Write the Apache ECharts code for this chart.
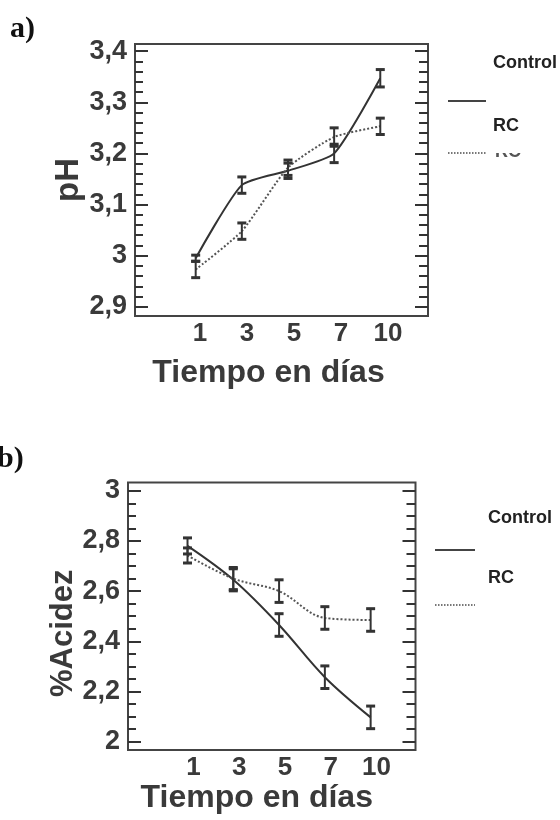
<!DOCTYPE html>
<html>
<head>
<meta charset="utf-8">
<script src="https://cdn.jsdelivr.net/npm/echarts@6/dist/echarts.min.js"></script>
<style>
html,body{margin:0;padding:0;background:#fff;}
#chart{width:560px;height:820px;}
</style>
</head>
<body>
<div id="chart"></div>
<script>
// ---- data ----
const dias = ['1', '3', '5', '7', '10'];
const seriesNames = ['Control', 'RC'];

const phControl    = [2.995, 3.138, 3.166, 3.200, 3.347];
const phControlErr = [0.006, 0.016, 0.015, 0.018, 0.017];
const phRC         = [2.973, 3.048, 3.172, 3.232, 3.253];
const phRCErr      = [0.016, 0.016, 0.015, 0.018, 0.016];

const acControl    = [2.780, 2.645, 2.465, 2.257, 2.097];
const acControlErr = [0.032, 0.044, 0.045, 0.045, 0.045];
const acRC         = [2.742, 2.650, 2.600, 2.493, 2.485];
const acRCErr      = [0.030, 0.044, 0.045, 0.045, 0.045];

const phTickValues = [2.9, 3.0, 3.1, 3.2, 3.3, 3.4];
const phTickLabels = ['2,9', '3', '3,1', '3,2', '3,3', '3,4'];
const acTickValues = [2.0, 2.2, 2.4, 2.6, 2.8, 3.0];
const acTickLabels = ['2', '2,2', '2,4', '2,6', '2,8', '3'];

const xTitle = 'Tiempo en días';
const yTitleA = 'pH';
const yTitleB = '%Acidez';

// ---- helpers ----
const FONT = 'Liberation Sans, Arial, sans-serif';
const TXT = '#3a3a3a';
const INK = '#333';

function minorsOf(majors, n) {
  const out = [];
  for (let i = 0; i < majors.length - 1; i++) {
    const step = (majors[i + 1] - majors[i]) / n;
    for (let k = 1; k < n; k++) out.push(+(majors[i] + k * step).toFixed(6));
  }
  return out;
}

function yAxesFor(gi, min, max, majors, labels, nMinor, name, nameGap, nameSize, namePad) {
  const minors = minorsOf(majors, nMinor);
  const base = {
    gridIndex: gi, type: 'value', min: min, max: max,
    axisLine: { show: false, onZero: false },
    splitLine: { show: false }
  };
  const tickStyle = { color: INK, width: 2 };
  return [
    Object.assign({}, base, {
      position: 'left',
      axisTick: { show: true, inside: true, length: 13, customValues: majors, lineStyle: tickStyle },
      axisLabel: {
        show: true, customValues: majors, margin: 8,
        fontFamily: FONT, fontWeight: 'bold', fontSize: 27, color: TXT,
        formatter: function (v) {
          const i = majors.findIndex(m => Math.abs(m - v) < 1e-6);
          return i >= 0 ? labels[i] : '';
        }
      },
      name: name, nameLocation: 'middle', nameGap: nameGap, nameMoveOverlap: false,
      nameTextStyle: { fontFamily: FONT, fontWeight: 'bold', fontSize: nameSize, color: TXT, padding: namePad }
    }),
    Object.assign({}, base, {
      position: 'left',
      axisTick: { show: true, inside: true, length: 8, customValues: minors, lineStyle: tickStyle },
      axisLabel: { show: false }
    }),
    Object.assign({}, base, {
      position: 'right',
      axisTick: { show: true, inside: true, length: 13, customValues: majors, lineStyle: tickStyle },
      axisLabel: { show: false }
    }),
    Object.assign({}, base, {
      position: 'right',
      axisTick: { show: true, inside: true, length: 9, customValues: minors, lineStyle: tickStyle },
      axisLabel: { show: false }
    })
  ];
}

function xAxesFor(gi, dMin, dMax, lMin, lMax, nameGap, namePad) {
  return [
    { gridIndex: gi, type: 'value', position: 'bottom', min: dMin, max: dMax, show: false,
      axisLine: { onZero: false } },
    { gridIndex: gi, type: 'value', position: 'bottom', min: lMin, max: lMax,
      axisLine: { show: false, onZero: false }, axisTick: { show: false }, splitLine: { show: false },
      axisLabel: {
        customValues: dias.map((d, i) => i), margin: 5,
        fontFamily: FONT, fontWeight: 'bold', fontSize: 26, color: TXT,
        formatter: v => dias[Math.round(v)]
      },
      name: xTitle, nameLocation: 'middle', nameGap: nameGap,
      nameTextStyle: { fontFamily: FONT, fontWeight: 'bold', fontSize: 32, color: TXT, padding: namePad }
    }
  ];
}

function errRender(params, api) {
  const x = api.value(0), lo = api.value(1), hi = api.value(2);
  const p1 = api.coord([x, lo]);
  const p2 = api.coord([x, hi]);
  const w = 4.5;
  const st = { stroke: INK, lineWidth: 2 };
  const cap = { stroke: INK, lineWidth: 3 };
  return {
    type: 'group',
    children: [
      { type: 'line', shape: { x1: p1[0], y1: p1[1], x2: p2[0], y2: p2[1] }, style: st },
      { type: 'line', shape: { x1: p1[0] - w, y1: p1[1], x2: p1[0] + w, y2: p1[1] }, style: cap },
      { type: 'line', shape: { x1: p2[0] - w, y1: p2[1], x2: p2[0] + w, y2: p2[1] }, style: cap }
    ]
  };
}

function panelSeries(xi, yi, ctrl, ctrlErr, rc, rcErr, smooth) {
  return [
    { name: seriesNames[0], type: 'line', xAxisIndex: xi, yAxisIndex: yi,
      data: ctrl.map((v, i) => [i, v]), showSymbol: false, smooth: smooth,
      lineStyle: { color: INK, width: 2, type: 'solid' }, z: 3 },
    { name: seriesNames[1], type: 'line', xAxisIndex: xi, yAxisIndex: yi,
      data: rc.map((v, i) => [i, v]), showSymbol: false, smooth: smooth,
      lineStyle: { color: '#555', width: 2, type: [2, 2] }, z: 3 },
    { type: 'custom', xAxisIndex: xi, yAxisIndex: yi, renderItem: errRender,
      data: ctrl.map((v, i) => [i, v - ctrlErr[i], v + ctrlErr[i]]), z: 4 },
    { type: 'custom', xAxisIndex: xi, yAxisIndex: yi, renderItem: errRender,
      data: rc.map((v, i) => [i, v - rcErr[i], v + rcErr[i]]), z: 4 }
  ];
}

function legendGraphics(tx, lx1, lx2, yCtrl, yLine1, yRC, yLine2) {
  const ts = { fontFamily: FONT, fontWeight: 'bold', fontSize: 18, fill: '#222', verticalAlign: 'middle' };
  return [
    { type: 'text', x: tx, y: yCtrl, style: Object.assign({ text: seriesNames[0] }, ts) },
    { type: 'line', shape: { x1: lx1, y1: yLine1, x2: lx2, y2: yLine1 }, style: { stroke: '#444', lineWidth: 2 } },
    { type: 'text', x: tx, y: yRC, style: Object.assign({ text: seriesNames[1] }, ts) },
    { type: 'line', shape: { x1: lx1, y1: yLine2, x2: lx2, y2: yLine2 }, style: { stroke: '#777', lineWidth: 2, lineDash: [1.5, 1.5] } }
  ];
}

const gridBorder = { show: true, borderColor: '#444', borderWidth: 2, backgroundColor: 'transparent' };

const option = {
  animation: false,
  backgroundColor: '#fff',
  grid: [
    Object.assign({ left: 135, top: 44, width: 293, height: 272 }, gridBorder),
    Object.assign({ left: 128, top: 482.5, width: 287.5, height: 267.5 }, gridBorder)
  ],
  xAxis: [].concat(
    xAxesFor(0, -1.315, 5.034, -1.383, 4.851, 41, [0, 26, 0, 0]),
    xAxesFor(1, -1.30, 4.98, -1.432, 4.852, 26, [0, 30, 0, 0])
  ),
  yAxis: [].concat(
    yAxesFor(0, 2.882, 3.414, phTickValues, phTickLabels, 5, yTitleA, 50, 33, [0, 0, 0, 0]),
    yAxesFor(1, 1.967, 3.0327, acTickValues, acTickLabels, 4, yTitleB, 49, 31, [0, 34, 0, 0])
  ),
  series: [].concat(
    panelSeries(0, 0, phControl, phControlErr, phRC, phRCErr, 0.2),
    panelSeries(2, 4, acControl, acControlErr, acRC, acRCErr, 0.35)
  ),
  graphic: [].concat(
    [
      { type: 'text', x: 10, y: 14, style: { text: 'a)', fontFamily: 'Liberation Serif, Times New Roman, serif', fontWeight: 'bold', fontSize: 30, fill: '#111' } },
      { type: 'text', x: -3, y: 444, style: { text: 'b)', fontFamily: 'Liberation Serif, Times New Roman, serif', fontWeight: 'bold', fontSize: 30, fill: '#111' } },
      // clipped "RC" artefact under the dotted legend line (panel a)
      { type: 'text', x: 495, y: 152, z: 1, style: { text: seriesNames[1], fontFamily: FONT, fontWeight: 'bold', fontSize: 18, fill: '#555', verticalAlign: 'middle' } },
      { type: 'rect', shape: { x: 489, y: 138, width: 50, height: 15 }, z: 2, style: { fill: '#fff' } }
    ],
    legendGraphics(493, 448, 486, 63, 101, 126, 153),
    legendGraphics(488, 435, 475, 518, 550, 578, 605)
  )
};

const chart = echarts.init(document.getElementById('chart'), null, { renderer: 'canvas' });
chart.setOption(option);
</script>
</body>
</html>
